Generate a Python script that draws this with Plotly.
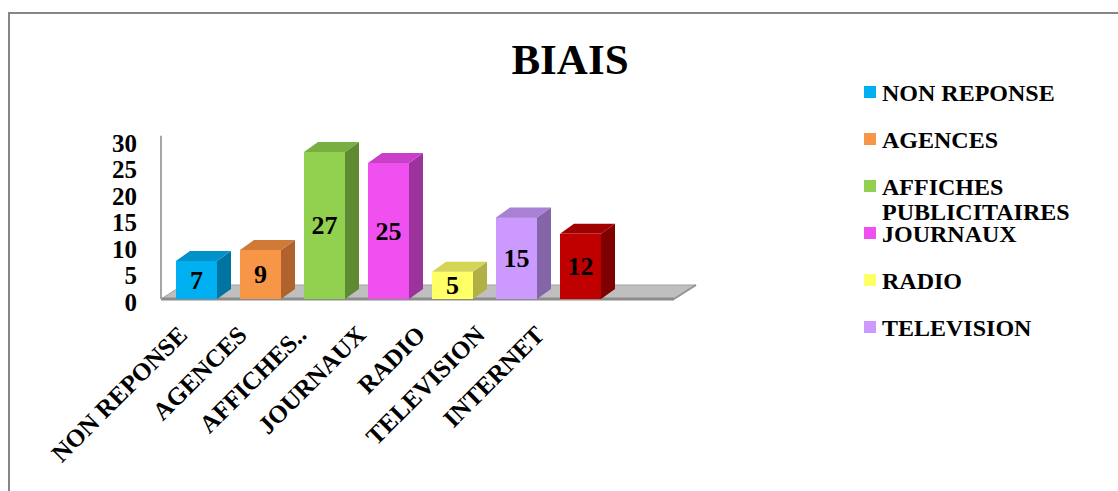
import plotly.graph_objects as go

# ---- data -------------------------------------------------------------
categories = ["NON REPONSE", "AGENCES", "AFFICHES PUBLICITAIRES", "JOURNAUX",
              "RADIO", "TELEVISION", "INTERNET"]
tick_labels = ["NON REPONSE", "AGENCES", "AFFICHES..", "JOURNAUX",
               "RADIO", "TELEVISION", "INTERNET"]
legend_labels = ["NON REPONSE", "AGENCES", "AFFICHES<br>PUBLICITAIRES",
                 "JOURNAUX", "RADIO", "TELEVISION"]
values = [7, 9, 27, 25, 5, 15, 12]
y_ticks = [0, 5, 10, 15, 20, 25, 30]

front_colors = ["#00B0F0", "#F79646", "#92D050", "#F050F0", "#FFFF66", "#CC99FF", "#C00000"]
top_colors = ["#0092C8", "#D07A38", "#78AE42", "#C840C8", "#D4D455", "#A880D4", "#A00000"]
side_colors = ["#0074A0", "#B0632C", "#5E8A34", "#9C329C", "#B0B046", "#8465AA", "#7E0000"]

# ---- page geometry (pixels) ------------------------------------------
W, H = 1118, 491
PL, PR, PT, PB = 160, 700, 120, 310          # plot box
CAT_PX, CAT0 = 64.0, 196.5                   # category pitch / first centre
VAL_PX, VAL0 = 5.44, 299.0                   # px per unit / baseline
BAR_W = 41 / CAT_PX
DX, DY = 14 / CAT_PX, 10 / VAL_PX            # bar depth
FDX, FDY = 22 / CAT_PX, 14 / VAL_PX          # floor depth
FLOOR_L = (161 - CAT0) / CAT_PX
FLOOR_R = (674 - CAT0) / CAT_PX

xr = [(PL - CAT0) / CAT_PX, (PR - CAT0) / CAT_PX]
yr = [(VAL0 - PB) / VAL_PX, (VAL0 - PT) / VAL_PX]
# label axes (slightly compressed perspective of the back plane)
LBL_PX, LBL0 = 5.3, 302.0
y2r = [(LBL0 - PB) / LBL_PX, (LBL0 - PT) / LBL_PX]
XL_PX, XL0 = 59.5, 185.0
x2r = [(PL - XL0) / XL_PX, (PR - XL0) / XL_PX]


def fx(px):
    return (px - PL) / (PR - PL)


def fy(py):
    return (PB - py) / (PB - PT)


FONT = "Liberation Serif"
idx = list(range(len(categories)))

fig = go.Figure()

# front faces of the columns
fig.add_trace(go.Bar(
    x=idx, y=values, width=BAR_W,
    marker=dict(color=front_colors, line=dict(width=0)),
    text=[str(v) for v in values], textposition="inside", textangle=0,
    insidetextanchor="middle", constraintext="none",
    textfont=dict(family=FONT, size=26, color="black", weight="bold"),
    showlegend=False, hoverinfo="x+y",
))
# helper trace carrying the label axes
fig.add_trace(go.Scatter(x=[None], y=[None], xaxis="x2", yaxis="y2",
                         showlegend=False, hoverinfo="skip"))

shapes = []
# floor slab
shapes.append(dict(
    type="path", xref="x", yref="y", layer="below",
    path=(f"M {FLOOR_L},0 L {FLOOR_R},0 L {FLOOR_R + FDX},{FDY} "
          f"L {FLOOR_L + FDX},{FDY} Z"),
    fillcolor="#BFBFBF", line=dict(color="#A0A0A0", width=1),
))
shapes.append(dict(type="line", xref="x", yref="y", layer="below",
                   x0=FLOOR_L, x1=FLOOR_R, y0=0, y1=0,
                   line=dict(color="#8C8C8C", width=3)))
shapes.append(dict(type="line", xref="x", yref="y", layer="below",
                   x0=FLOOR_R, x1=FLOOR_R + FDX, y0=0, y1=FDY,
                   line=dict(color="#959595", width=2)))
# back wall edge
shapes.append(dict(type="line", xref="x", yref="y", layer="below",
                   x0=FLOOR_L, x1=FLOOR_L, y0=0, y1=y_ticks[-1],
                   line=dict(color="#A6A6A6", width=2)))

# side and top faces of each column
for i, v in enumerate(values):
    l, r = i - BAR_W / 2, i + BAR_W / 2
    shapes.append(dict(
        type="path", xref="x", yref="y", layer="above",
        path=f"M {r},0 L {r + DX},{DY} L {r + DX},{v + DY} L {r},{v} Z",
        fillcolor=side_colors[i], line=dict(width=0),
    ))
    shapes.append(dict(
        type="path", xref="x", yref="y", layer="above",
        path=f"M {l},{v} L {r},{v} L {r + DX},{v + DY} L {l + DX},{v + DY} Z",
        fillcolor=top_colors[i], line=dict(width=0),
    ))

# chart frame
shapes.append(dict(type="rect", xref="paper", yref="paper",
                   x0=fx(9), x1=fx(W + 20), y0=fy(H + 20), y1=fy(13),
                   line=dict(color="#868686", width=2), fillcolor="rgba(0,0,0,0)"))

# legend (colour key)
annotations = []
for i, name in enumerate(legend_labels):
    cy = 92 + 47 * i
    shapes.append(dict(type="rect", xref="paper", yref="paper",
                       x0=fx(864), x1=fx(876), y0=fy(cy + 6), y1=fy(cy - 6),
                       fillcolor=front_colors[i], line=dict(width=0)))
    for k, line in enumerate(name.split("<br>")):
        annotations.append(dict(
            xref="paper", yref="paper", x=fx(880), y=fy(cy + 1 + 24.5 * k),
            xanchor="left", yanchor="middle", showarrow=False, text=line,
            font=dict(family=FONT, size=24, color="black", weight="bold"),
        ))

fig.update_layout(
    width=W, height=H,
    margin=dict(l=PL, r=W - PR, t=PT, b=H - PB, pad=0),
    paper_bgcolor="white", plot_bgcolor="rgba(0,0,0,0)",
    title=dict(text="BIAIS", x=570 / W, xanchor="center",
               y=1 - 59 / H, yanchor="middle",
               font=dict(family=FONT, size=43, color="black", weight="bold")),
    xaxis=dict(range=xr, showticklabels=False, showgrid=False,
               zeroline=False, showline=False, fixedrange=True),
    yaxis=dict(range=yr, showticklabels=False, showgrid=False,
               zeroline=False, showline=False, fixedrange=True),
    xaxis2=dict(range=x2r, overlaying="x", anchor="y2", side="bottom",
                tickmode="array", tickvals=idx, ticktext=tick_labels,
                tickangle=-45, ticks="", showgrid=False, zeroline=False,
                showline=False, ticklabelstandoff=4, ticklabelshift=-5,
                tickfont=dict(family=FONT, size=25, color="black", weight="bold")),
    yaxis2=dict(range=y2r, overlaying="y", anchor="x2", side="left",
                tickmode="array", tickvals=y_ticks, ticks="",
                showgrid=False, zeroline=False, showline=False,
                ticklabelstandoff=22,
                tickfont=dict(family=FONT, size=25, color="black", weight="bold")),
    shapes=shapes, annotations=annotations,
    showlegend=False, bargap=0,
)

fig.write_html("out.html")
